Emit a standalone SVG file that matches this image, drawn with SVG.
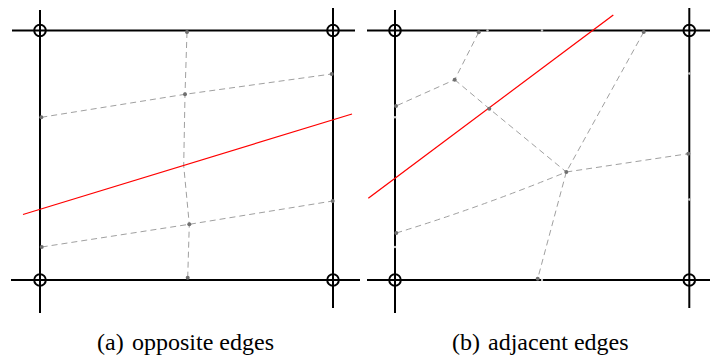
<svg xmlns="http://www.w3.org/2000/svg" width="710" height="356" viewBox="0 0 710 356">
<style>
.frame{stroke:#000;stroke-width:2;fill:none}
.corner{stroke:#000;stroke-width:2;fill:none}
.dash{stroke:#a0a0a0;stroke-width:1;fill:none;stroke-dasharray:6 4}
.dot{fill:#707070}
.ghost{fill:#c8c8c8}
.cut{stroke:#ff0000;stroke-width:1.3;fill:none}
.cap{font-family:"Liberation Serif","Times New Roman",serif;font-size:24px;fill:#000}
</style>
<rect width="710" height="356" fill="#fff"/>

<g id="panel-a">
  <g id="a-frame">
    <line class="frame" x1="12" y1="30.5" x2="355" y2="30.5"/>
    <line class="frame" x1="11" y1="280" x2="360" y2="280"/>
    <line class="frame" x1="40" y1="10" x2="40" y2="313"/>
    <line class="frame" x1="333" y1="8" x2="333" y2="308"/>
  </g>
  <g id="a-corners">
    <circle class="corner" cx="40" cy="30.5" r="5.8"/>
    <circle class="corner" cx="333" cy="30.5" r="5.8"/>
    <circle class="corner" cx="40" cy="280" r="5.8"/>
    <circle class="corner" cx="333" cy="280" r="5.8"/>
  </g>
  <g id="a-connectors">
    <polyline class="dash" points="187,32 185,94.3 183.7,165.7 189.3,224.3 187.7,277.7"/>
    <polyline class="dash" points="41.3,117.3 185,94.3 331.7,74"/>
    <polyline class="dash" points="41.7,247 189.3,224.3 332.7,201"/>
    <line class="cut" x1="23" y1="214.5" x2="352" y2="114"/>
  </g>
  <g id="a-nodes">
    <circle class="dot" cx="187" cy="32" r="2"/>
    <circle class="dot" cx="185" cy="94.3" r="2"/>
    <circle class="dot" cx="189.3" cy="224.3" r="2"/>
    <circle class="dot" cx="187.7" cy="277.7" r="2"/>
    <circle class="dot" cx="41.3" cy="117.3" r="2"/>
    <circle class="dot" cx="331.7" cy="74" r="2"/>
    <circle class="dot" cx="41.7" cy="247" r="2"/>
    <circle class="dot" cx="332.7" cy="201" r="2"/>
  </g>
  <text class="cap" y="350"><tspan x="97">(a)</tspan><tspan x="132">opposite edges</tspan></text>
</g>

<g id="panel-b">
  <g id="b-frame">
    <line class="frame" x1="367" y1="30.5" x2="710" y2="30.5"/>
    <line class="frame" x1="367" y1="280" x2="710" y2="280"/>
    <line class="frame" x1="395" y1="10" x2="395" y2="313"/>
    <line class="frame" x1="689.3" y1="8" x2="689.3" y2="308"/>
  </g>
  <g id="b-corners">
    <circle class="corner" cx="395" cy="30.5" r="5.8"/>
    <circle class="corner" cx="689.3" cy="30.5" r="5.8"/>
    <circle class="corner" cx="395" cy="280" r="5.8"/>
    <circle class="corner" cx="689.3" cy="280" r="5.8"/>
  </g>
  <g id="b-ghosts">
    <circle class="ghost" cx="542" cy="30.5" r="1.2"/>
    <circle class="ghost" cx="487.5" cy="30.5" r="1.2"/>
    <circle class="ghost" cx="689.3" cy="73.5" r="1.2"/>
    <circle class="ghost" cx="689.3" cy="199.5" r="1.2"/>
    <circle class="ghost" cx="395" cy="117.3" r="1.2"/>
    <circle class="ghost" cx="395" cy="247" r="1.2"/>
    <circle class="ghost" cx="542" cy="280" r="1.2"/>
  </g>
  <g id="b-connectors">
    <polyline class="dash" points="478.7,32.3 454.7,79.7 396,106"/>
    <polyline class="dash" points="454.7,79.7 489.3,108.7 566.3,172"/>
    <line class="dash" x1="643.7" y1="32" x2="566.3" y2="172"/>
    <line class="dash" x1="566.3" y1="172" x2="688.3" y2="153.7"/>
    <path class="dash" d="M396.3,233 Q481,207 566.3,172"/>
    <line class="dash" x1="566.3" y1="172" x2="537.7" y2="278.7"/>
    <line class="cut" x1="613.3" y1="15" x2="368.3" y2="198.3"/>
  </g>
  <g id="b-nodes">
    <circle class="dot" cx="478.7" cy="32.3" r="2"/>
    <circle class="dot" cx="454.7" cy="79.7" r="2"/>
    <circle class="dot" cx="396" cy="106" r="2"/>
    <circle class="dot" cx="489.3" cy="108.7" r="2"/>
    <circle class="dot" cx="566.3" cy="172" r="2"/>
    <circle class="dot" cx="643.7" cy="32" r="2"/>
    <circle class="dot" cx="688.3" cy="153.7" r="2"/>
    <circle class="dot" cx="396.3" cy="233" r="2"/>
    <circle class="dot" cx="537.7" cy="278.7" r="2"/>
  </g>
  <text class="cap" y="350"><tspan x="452">(b)</tspan><tspan x="488">adjacent edges</tspan></text>
</g>
</svg>
